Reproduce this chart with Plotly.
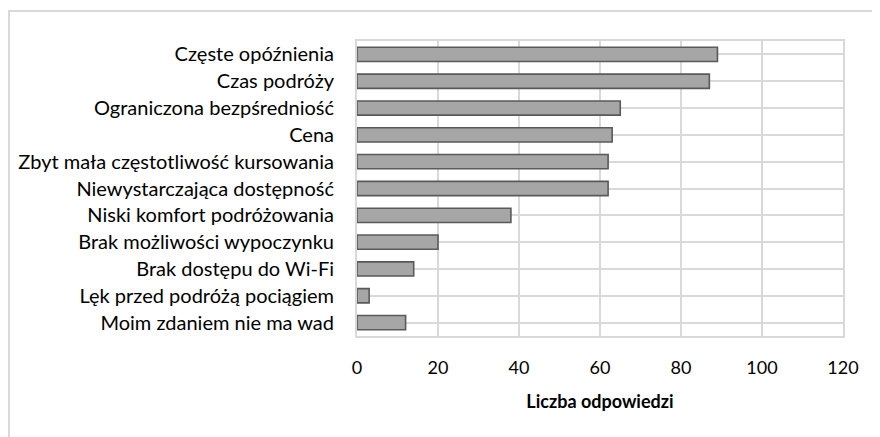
import plotly.graph_objects as go

# Dane z wykresu
kategorie = [
    "Częste opóźnienia",
    "Czas podróży",
    "Ograniczona bezpśredniość",
    "Cena",
    "Zbyt mała częstotliwość kursowania",
    "Niewystarczająca dostępność",
    "Niski komfort podróżowania",
    "Brak możliwości wypoczynku",
    "Brak dostępu do Wi-Fi",
    "Lęk przed podróżą pociągiem",
    "Moim zdaniem nie ma wad",
]
odpowiedzi = [89, 87, 65, 63, 62, 62, 38, 20, 14, 3, 12]
x_ticks = [0, 20, 40, 60, 80, 100, 120]

FONT = "Lato, 'Open Sans', sans-serif"
GRID = "#d9d9d9"

fig = go.Figure()
fig.add_trace(go.Bar(
    x=odpowiedzi,
    y=kategorie,
    orientation="h",
    width=0.53,
    marker=dict(color="#a6a6a6", line=dict(color="#5a5a5a", width=1.6)),
    showlegend=False,
))

# strona ma 8px marginesu body, stąd 872x429
fig.update_layout(
    width=872, height=429,
    margin=dict(l=349, r=37, t=33, b=101),
    paper_bgcolor="white",
    plot_bgcolor="white",
    font=dict(family=FONT, size=19, color="#000000"),
    xaxis=dict(
        range=[0, 120],
        tickvals=x_ticks,
        automargin=False,
        showgrid=True, gridcolor=GRID, gridwidth=2,
        zeroline=False,
        showline=True, linecolor=GRID, linewidth=2, mirror=True,
        ticks="outside", ticklen=14, tickcolor="rgba(0,0,0,0)",
        tickfont=dict(size=18),
        title=dict(text="<b>Liczba odpowiedzi</b>", font=dict(size=18), standoff=19),
    ),
    yaxis=dict(
        autorange="reversed",
        automargin=False,
        showgrid=True, gridcolor=GRID, gridwidth=2,
        showline=True, linecolor=GRID, linewidth=2, mirror=True,
        ticks="outside", ticklen=17, tickcolor="rgba(0,0,0,0)",
        tickfont=dict(size=20),
    ),
)

# ramka wykresu (wychodzi poza prawą i dolną krawędź)
fig.add_shape(type="rect", xref="paper", yref="paper",
              x0=-348 / 486, x1=1 + 60 / 486, y0=-200 / 295, y1=1 + 30 / 295,
              line=dict(color=GRID, width=2), fillcolor="rgba(0,0,0,0)", layer="below")

fig.write_html("out.html")
